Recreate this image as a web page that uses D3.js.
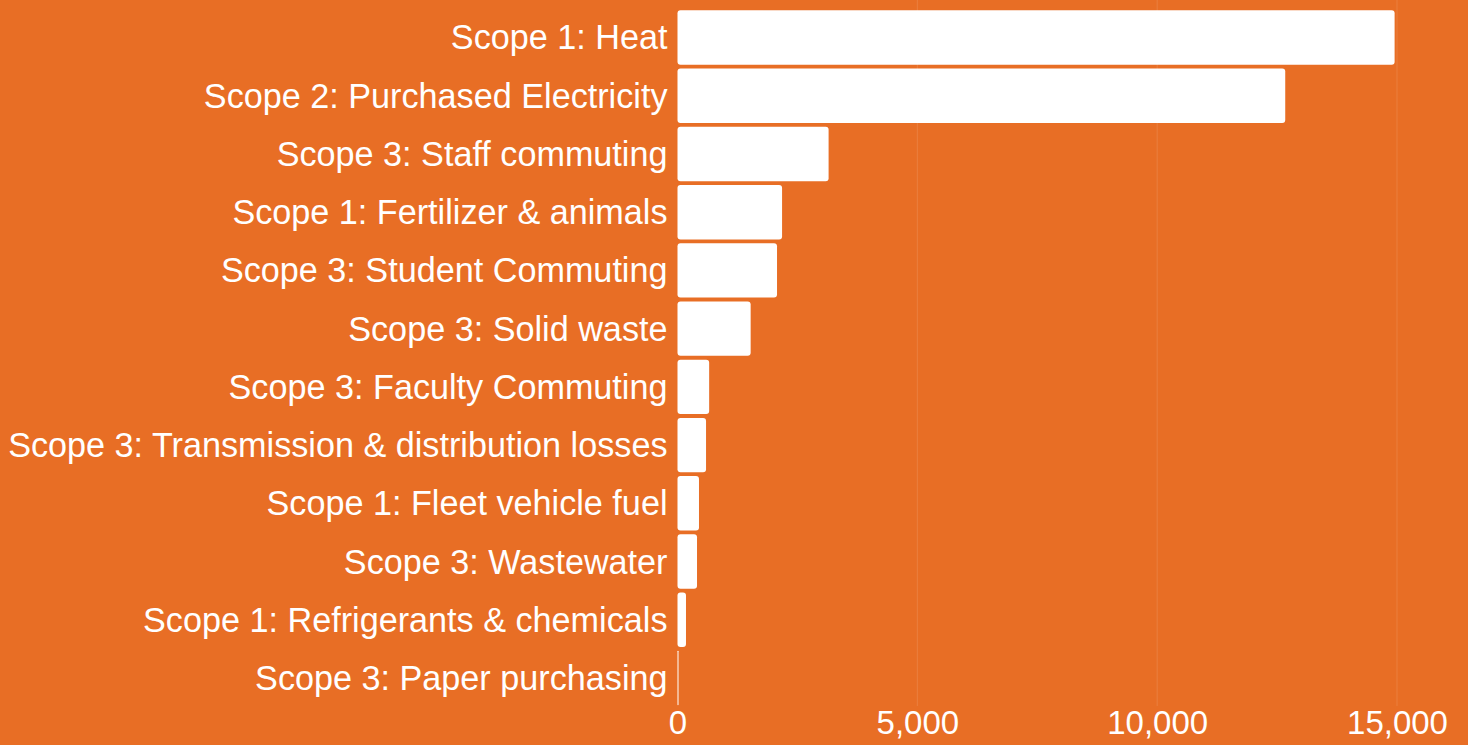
<!DOCTYPE html>
<html>
<head>
<meta charset="utf-8">
<script src="https://cdn.jsdelivr.net/npm/d3@7"></script>
<style>
  html, body { margin: 0; padding: 0; background: #E86E25; }
  svg { display: block; }
  text { font-family: "Liberation Sans", Arial, sans-serif; fill: #fff; }
</style>
</head>
<body>
<svg id="chart" width="1468" height="745"></svg>
<script>
// Greenhouse gas emissions by source (MTCO2e)
const categories = [
  "Scope 1: Heat",
  "Scope 2: Purchased Electricity",
  "Scope 3: Staff commuting",
  "Scope 1: Fertilizer & animals",
  "Scope 3: Student Commuting",
  "Scope 3: Solid waste",
  "Scope 3: Faculty Commuting",
  "Scope 3: Transmission & distribution losses",
  "Scope 1: Fleet vehicle fuel",
  "Scope 3: Wastewater",
  "Scope 1: Refrigerants & chemicals",
  "Scope 3: Paper purchasing"
];
const emissions = [14950, 12670, 3150, 2180, 2075, 1525, 660, 595, 448, 407, 177, 20];
const tickValues = [0, 5000, 10000, 15000];

const svg = d3.select("#chart");

const x = d3.scaleLinear().domain([0, 15000]).range([677.5, 1397]);
const y = d3.scaleBand()
  .domain(categories)
  .range([8.5, 707])
  .paddingInner(0.065)
  .paddingOuter(0.03);

// vertical gridlines
svg.append("g")
  .selectAll("line")
  .data(tickValues.slice(1))
  .join("line")
  .attr("x1", d => x(d)).attr("x2", d => x(d))
  .attr("y1", 0).attr("y2", 706)
  .attr("stroke", "rgba(255,255,255,0.12)")
  .attr("stroke-width", 1);

// bars
svg.append("g")
  .selectAll("rect")
  .data(categories.map((c, i) => ({ c, v: emissions[i] })))
  .join("rect")
  .attr("x", x(0))
  .attr("y", d => y(d.c))
  .attr("width", d => Math.max(1, x(d.v) - x(0)))
  .attr("height", y.bandwidth())
  .attr("rx", d => Math.min(3, (x(d.v) - x(0)) / 2))
  .attr("fill", "#fff");

// category labels
const yAxis = d3.axisLeft(y).tickSize(0).tickPadding(10);
const gy = svg.append("g")
  .attr("transform", `translate(${x(0)},0)`)
  .call(yAxis);
gy.select(".domain").remove();
gy.selectAll("text")
  .attr("font-size", 34.2)
  .attr("fill", "#fff")
  .attr("dy", "0.35em");

// value axis
const xAxis = d3.axisBottom(x)
  .tickValues(tickValues)
  .tickSize(0)
  .tickPadding(0)
  .tickFormat(d3.format(","));
const gx = svg.append("g")
  .attr("transform", "translate(0,711)")
  .call(xAxis);
gx.select(".domain").remove();
gx.selectAll("text")
  .attr("font-size", 33)
  .attr("fill", "#fff")
  .attr("dy", "0.71em");
</script>
</body>
</html>
